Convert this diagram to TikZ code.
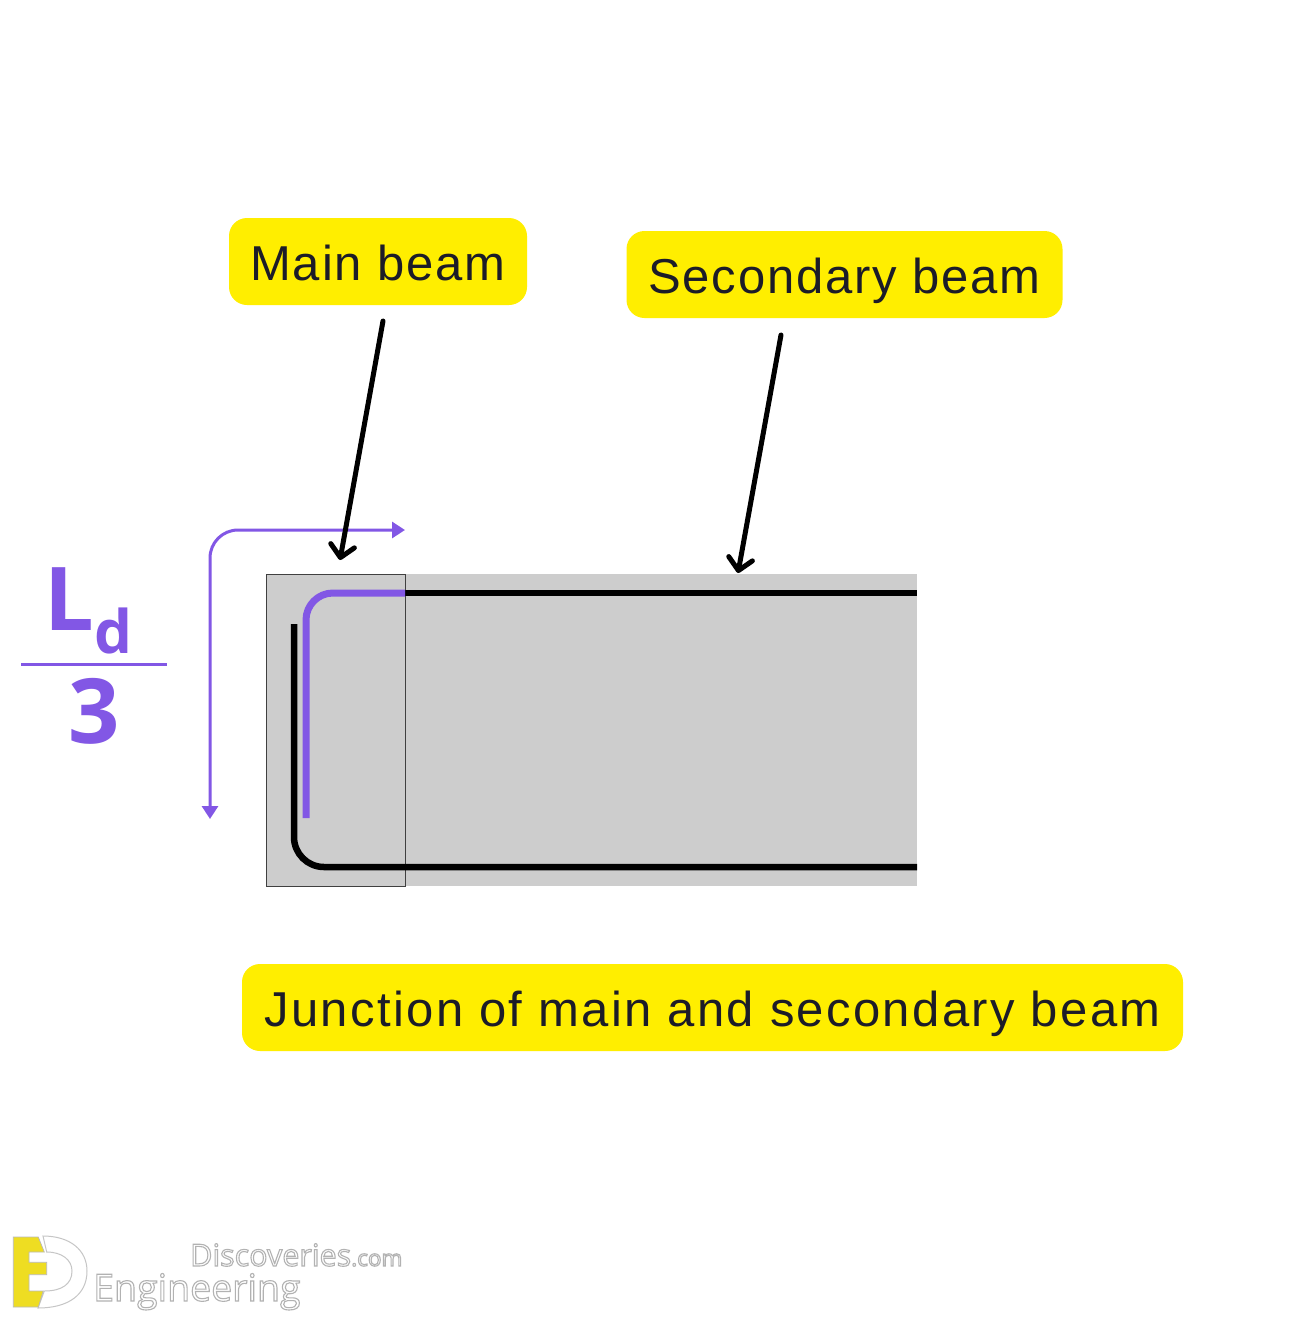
\documentclass[tikz,border=0pt]{standalone}
\usepackage{fontspec}
\setmainfont{Open Sans}
\newfontfamily\tagfont[LetterSpace=3.8]{Liberation Sans}
\newfontfamily\tagfontwide[LetterSpace=4.8]{Liberation Sans}
\usetikzlibrary{arrows.meta}
\definecolor{tagyellow}{HTML}{FFEE00}
\definecolor{violetline}{HTML}{8257E5}
\definecolor{beamgray}{HTML}{CDCDCD}
\definecolor{inkdark}{HTML}{1C1C28}
\definecolor{logoyellow}{HTML}{EEDD22}
\newcommand{\pxfont}[1]{\fontsize{#1}{#1}\selectfont}
\newcommand{\halo}[1]{\special{pdf:code q 2 Tr 1.1 w 0.70 G 1 g}#1\special{pdf:code 0 Tr Q}}
\tikzset{
  tag/.style={fill=tagyellow,rounded corners=18pt,inner sep=0pt,text=inkdark,font=\tagfont\pxfont{49},text height=37pt,text depth=0pt,minimum height=87pt},
  rebar/.style={line width=6.5pt,draw=black},
  violetbar/.style={line width=7pt,draw=violetline},
  dimline/.style={line width=3pt,draw=violetline,{Triangle[length=13pt,width=16pt]}-{Triangle[length=13pt,width=16pt]}},
  pointer/.style={line width=5pt,draw=black,line cap=round,-{Straight Barb[round,length=12pt,width=24pt,line width=5pt]}},
  logotext/.style={inner sep=0pt,anchor=base west},
}
\begin{document}
\begin{tikzpicture}[x=1pt,y=-1pt]
\useasboundingbox (0,0) rectangle (1308,1323);
\fill[white] (0,0) rectangle (1308,1323);
% beam
\fill[beamgray] (266,574) rectangle (917,886);
\node[draw=black!75,line width=1pt,inner sep=0pt,minimum width=139pt,minimum height=312pt] (junction) at (335.5,730) {};
% rebars
\coordinate (topstart) at (405,593);
\coordinate (topend) at (917,593);
\coordinate (botstart) at (294,624);
\coordinate (botend) at (917,867);
\coordinate (violetstart) at (306,818);
\draw[rebar] (topstart) -- (topend);
\draw[rebar,rounded corners=30pt] (botstart) -- (294,867) -- (botend);
\draw[violetbar,rounded corners=27pt] (violetstart) -- (306,593) -- (topstart);
% dimension arrows
\coordinate (dimtip) at (210,819);
\coordinate (dimend) at (405,530);
\draw[dimline,rounded corners=28pt] (dimtip) -- (210,530) -- (dimend);
% tags
\node[tag,minimum width=298pt] (main) at (378,261.5) {Main beam};
\node[tag,minimum width=436pt] (secondary) at (844.5,274.5) {Secondary beam};
\node[tag,minimum width=941pt,font=\tagfontwide\pxfont{49}] (junctiontag) at (712.5,1007.5) {Junction of main and secondary beam};
% pointers
\coordinate (mainfrom) at (383,321);
\coordinate (mainto) at (340,560);
\coordinate (secfrom) at (781,335);
\coordinate (secto) at (738,573);
\draw[pointer] (mainfrom) -- (mainto);
\draw[pointer] (secfrom) -- (secto);
% fraction
\node[inner sep=0pt,anchor=base west,text=violetline,font=\bfseries\pxfont{88}] (ld) at (44,630) {L\kern1pt\raisebox{-23pt}{\pxfont{60}d}};
\node[inner sep=0pt,anchor=base,text=violetline,font=\bfseries\pxfont{90}] (three) at (94.5,743) {3};
\coordinate (barl) at (21,664.5);
\coordinate (barr) at (167,664.5);
\draw[line width=3pt,violetline] (barl) -- (barr);
% logo
\draw[gray!45,line width=1pt,fill=white] (43,1236) .. controls (70,1236) and (87,1250) .. (87,1271) .. controls (87,1295) and (68,1308) .. (38,1308) -- (44.3,1291) .. controls (62,1291) and (72,1284) .. (72,1271) .. controls (72,1260) and (62,1252) .. (46.7,1252) -- cycle;
\fill[logoyellow,draw=gray!55,line width=.7pt] (13.3,1237) -- (38.3,1237) -- (44.3,1252) -- (29,1252) -- (29,1262.3) -- (46.7,1262.3) -- (46.7,1274.7) -- (29,1274.7) -- (29,1291) -- (43.3,1291) -- (38.3,1307) -- (13.3,1307) -- cycle;
\node[logotext,font=\pxfont{30.5}] (disc) at (190,1266) {\halo{Discoveries{\pxfont{22.5}.com}}};
\node[logotext,font=\pxfont{37.5}] (eng) at (93,1301) {\halo{Engineering}};
\end{tikzpicture}
\end{document}
